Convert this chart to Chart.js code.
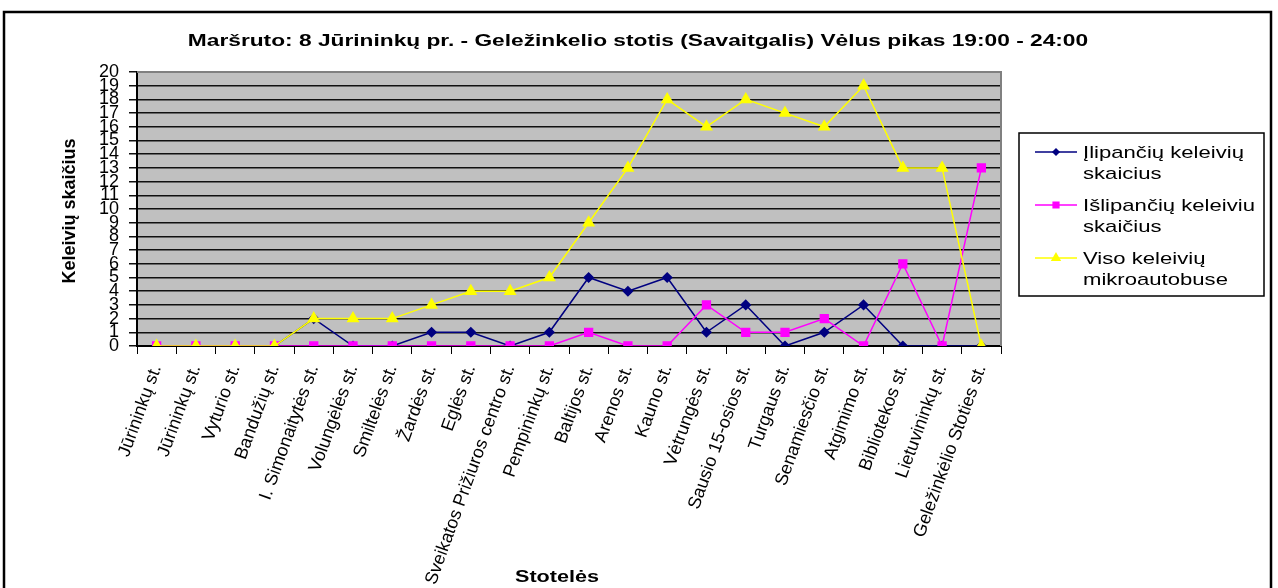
<!DOCTYPE html>
<html lang="lt">
<head>
  <meta charset="UTF-8">
  <title>Maršrutas 8</title>
  <script src="https://cdn.jsdelivr.net/npm/chart.js"></script>
  <style>
    body {
      margin: 0;
      background: #fff;
    }
    canvas {
      display: block;
    }
  </style>
</head>
<body>

<canvas id="marsrutas" width="1278" height="588"></canvas>

<script>
const stoteles = [
  'Jūrininkų st.', 'Jūrininkų st.', 'Vyturio st.', 'Bandužių st.', 'I. Simonaitytės st.',
  'Volungėlės st.', 'Smiltelės st.', 'Žardės st.', 'Eglės st.', 'Sveikatos Prižiuros centro st.',
  'Pempininkų st.', 'Baltijos st.', 'Arenos st.', 'Kauno st.', 'Vėtrungės st.',
  'Sausio 15-osios st.', 'Turgaus st.', 'Senamiesčio st.', 'Atgimimo st.', 'Bibliotekos st.',
  'Lietuvininkų st.', 'Geležinkėlio Stoties st.'
];

const ilipanciu = [0, 0, 0, 0, 2, 0, 0, 1, 1, 0, 1, 5, 4, 5, 1, 3, 0, 1, 3, 0, 0, 0];
const islipanciu = [0, 0, 0, 0, 0, 0, 0, 0, 0, 0, 0, 1, 0, 0, 3, 1, 1, 2, 0, 6, 0, 13];
const viso = [0, 0, 0, 0, 2, 2, 2, 3, 4, 4, 5, 9, 13, 18, 16, 18, 17, 16, 19, 13, 13, 0];

const legendaEilutes = [
  ['Įlipančių keleivių', 'skaicius'],
  ['Išlipančių keleiviu', 'skaičius'],
  ['Viso keleivių', 'mikroautobuse']
];

const pavadinimas = 'Maršruto: 8 Jūrininkų pr. - Geležinkelio stotis (Savaitgalis) Vėlus pikas 19:00 - 24:00';
const yPavadinimas = 'Keleivių skaičius';
const xPavadinimas = 'Stotelės';

const SRIFTAS = 'Arial, "Liberation Sans", sans-serif';

// tekstas istemptas horizontaliai, kaip originale
function tekstas(ctx, t, x, y, sx) {
  ctx.save();
  ctx.translate(x, y);
  ctx.scale(sx, 1);
  ctx.fillText(t, 0, 0);
  ctx.restore();
}

// remelis, fonas, pavadinimai ir legenda
const piesinys = {
  id: 'piesinys',
  beforeDraw(chart) {
    const { ctx, chartArea: a } = chart;
    ctx.save();
    ctx.fillStyle = '#fff';
    ctx.fillRect(0, 0, chart.width, chart.height);
    ctx.fillStyle = '#c0c0c0';
    ctx.fillRect(a.left, a.top, a.right - a.left, a.bottom - a.top);
    ctx.restore();
  },
  beforeDatasetsDraw(chart) {
    const { ctx, chartArea: a } = chart;
    ctx.save();
    ctx.strokeStyle = '#808080';
    ctx.lineWidth = 2;
    ctx.beginPath();
    ctx.moveTo(a.left, a.top);
    ctx.lineTo(a.right, a.top);
    ctx.lineTo(a.right, a.bottom);
    ctx.stroke();
    ctx.restore();
  },
  afterDraw(chart) {
    const { ctx } = chart;
    ctx.save();
    // isorinis remelis
    ctx.strokeStyle = '#000';
    ctx.lineWidth = 2.5;
    ctx.strokeRect(4, 12, 1267, 600);

    ctx.fillStyle = '#000';
    ctx.textAlign = 'center';
    ctx.textBaseline = 'middle';
    ctx.font = 'bold 16px ' + SRIFTAS;
    tekstas(ctx, pavadinimas, 638, 42, 1.42);

    ctx.font = 'bold 16px ' + SRIFTAS;
    tekstas(ctx, xPavadinimas, 557, 578, 1.35);

    ctx.translate(70, 211);
    ctx.rotate(-Math.PI / 2);
    ctx.font = 'bold 18px ' + SRIFTAS;
    ctx.fillText(yPavadinimas, 0, 0);
    ctx.restore();

    // legenda
    ctx.save();
    ctx.strokeStyle = '#000';
    ctx.lineWidth = 1.5;
    ctx.strokeRect(1019, 133, 245, 163);
    ctx.font = '17px ' + SRIFTAS;
    ctx.textAlign = 'left';
    ctx.textBaseline = 'middle';
    chart.data.datasets.forEach((ds, i) => {
      const y = 152 + i * 53;
      ctx.strokeStyle = ds.borderColor;
      ctx.fillStyle = ds.backgroundColor;
      ctx.lineWidth = 1.5;
      ctx.beginPath();
      ctx.moveTo(1035, y);
      ctx.lineTo(1077, y);
      ctx.stroke();
      Chart.helpers.drawPoint(ctx, {
        pointStyle: ds.pointStyle,
        radius: ds.pointRadius - 1.5,
        borderWidth: 1
      }, 1056, y);
      ctx.fillStyle = '#000';
      legendaEilutes[i].forEach((t, j) => tekstas(ctx, t, 1083, y + 1 + j * 21, 1.3));
    });
    ctx.restore();
  }
};

const ctx = document.getElementById('marsrutas').getContext('2d');

const grafikas = new Chart(ctx, {
  type: 'line',
  data: {
    labels: stoteles,
    datasets: [
      {
        label: legendaEilutes[0].join(' '),
        data: ilipanciu,
        borderColor: '#000080',
        backgroundColor: '#000080',
        pointStyle: 'rectRot',
        pointRadius: 4.5,
        borderWidth: 1.5,
        order: 3
      },
      {
        label: legendaEilutes[1].join(' '),
        data: islipanciu,
        borderColor: '#ff00ff',
        backgroundColor: '#ff00ff',
        pointStyle: 'rect',
        pointRadius: 5.5,
        borderWidth: 1.5,
        order: 2
      },
      {
        label: legendaEilutes[2].join(' '),
        data: viso,
        borderColor: '#ffff00',
        backgroundColor: '#ffff00',
        pointStyle: 'triangle',
        pointRadius: 6,
        borderWidth: 1.5,
        order: 1
      }
    ]
  },
  options: {
    responsive: false,
    animation: false,
    events: [],
    layout: {
      padding: { left: 0, top: 72, right: 277, bottom: 0 }
    },
    elements: {
      line: { tension: 0, fill: false }
    },
    plugins: {
      legend: { display: false },
      title: { display: false },
      tooltip: { enabled: false }
    },
    scales: {
      x: {
        offset: true,
        afterFit(scale) { scale.height = 242; },
        grid: {
          offset: true,
          drawOnChartArea: false,
          drawTicks: true,
          tickLength: 8,
          color: '#000'
        },
        border: { color: '#000', width: 2 },
        ticks: {
          autoSkip: false,
          minRotation: 70,
          maxRotation: 70,
          padding: 8,
          color: '#000',
          font: { family: SRIFTAS, size: 18 }
        }
      },
      y: {
        min: 0,
        max: 20,
        afterFit(scale) { scale.width = 137; },
        grid: {
          color: '#111',
          lineWidth: 1.5,
          tickLength: 8
        },
        border: { color: '#000', width: 2 },
        ticks: {
          stepSize: 1,
          autoSkip: false,
          padding: 10,
          color: '#000',
          font: { family: SRIFTAS, size: 18 }
        }
      }
    }
  },
  plugins: [piesinys]
});
</script>

</body>
</html>
